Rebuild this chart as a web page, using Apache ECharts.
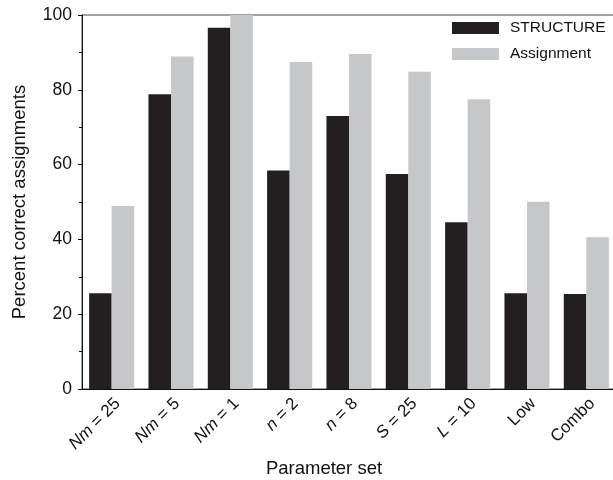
<!DOCTYPE html>
<html>
<head>
<meta charset="utf-8">
<script src="https://cdn.jsdelivr.net/npm/echarts@6/dist/echarts.min.js"></script>
<style>html,body{margin:0;padding:0;background:#fff;}#c{width:613px;height:480px;}</style>
</head>
<body>
<div id="c"></div>
<script>
const categories = ['Nm = 25', 'Nm = 5', 'Nm = 1', 'n = 2', 'n = 8', 'S = 25', 'L = 10', 'Low', 'Combo'];
const structureValues = [25.6, 78.8, 96.6, 58.4, 73.0, 57.5, 44.6, 25.6, 25.4];
const assignmentValues = [48.9, 88.9, 100, 87.4, 89.6, 84.8, 77.5, 50.1, 40.6];
const yTicks = [0, 20, 40, 60, 80, 100];

const FONT = '"Liberation Sans", Arial, Helvetica, sans-serif';
const chart = echarts.init(document.getElementById('c'), null, {renderer: 'canvas'});

function fmtLabel(v) {
  const m = v.match(/^(Nm|n|S|L) = (.*)$/);
  if (m) return '{i|' + m[1] + '}{r| = ' + m[2] + '}';
  return '{r|' + v + '}';
}

chart.setOption({
  animation: false,
  backgroundColor: '#fff',
  textStyle: {fontFamily: FONT},
  grid: {left: 82, right: -3, top: 15, bottom: 91, show: true, borderColor: '#444', borderWidth: 1,
         containLabel: false, outerBoundsMode: 'none'},
  legend: {
    orient: 'vertical',
    left: 452, top: 20, padding: 0,
    itemWidth: 47, itemHeight: 12, itemGap: 10,
    icon: 'rect',
    textStyle: {fontFamily: FONT, fontSize: 15.5, color: '#111', padding: [0, 0, 0, 6], lineHeight: 16},
    data: ['STRUCTURE', 'Assignment']
  },
  xAxis: {
    type: 'category',
    data: categories,
    axisLine: {lineStyle: {color: '#111', width: 1}},
    axisTick: {alignWithLabel: true, length: 5, lineStyle: {color: '#111'}},
    axisLabel: {
      rotate: 45, margin: 6, color: '#111',
      verticalAlign: 'top',
      formatter: fmtLabel,
      rich: {
        i: {fontFamily: FONT, fontSize: 17, fontStyle: 'italic', color: '#111'},
        r: {fontFamily: FONT, fontSize: 17, color: '#111'}
      }
    },
    name: 'Parameter set',
    nameLocation: 'middle',
    nameGap: 64,
    nameTextStyle: {fontFamily: FONT, fontSize: 18.5, color: '#111', padding: [0, 50, 0, 0]}
  },
  yAxis: {
    type: 'value',
    min: 0, max: 100, interval: 20,
    axisLine: {show: true, lineStyle: {color: '#111', width: 1}},
    axisTick: {show: true, length: 4, lineStyle: {color: '#111'}},
    minorTick: {show: true, splitNumber: 2, length: 3, lineStyle: {color: '#111'}},
    splitLine: {show: false},
    axisLabel: {color: '#111', fontSize: 17.5, fontFamily: FONT, margin: 10,
      formatter: v => yTicks.includes(v) ? String(v) : ''},
    name: 'Percent correct assignments',
    nameLocation: 'middle',
    nameGap: 53,
    nameTextStyle: {fontFamily: FONT, fontSize: 18.5, color: '#111'}
  },
  series: [
    {name: 'STRUCTURE', type: 'bar', data: structureValues, barGap: '0%', barCategoryGap: '24%',
     itemStyle: {color: '#231f20'}},
    {name: 'Assignment', type: 'bar', data: assignmentValues,
     itemStyle: {color: '#c6c7c9'}}
  ]
});
</script>
</body>
</html>
